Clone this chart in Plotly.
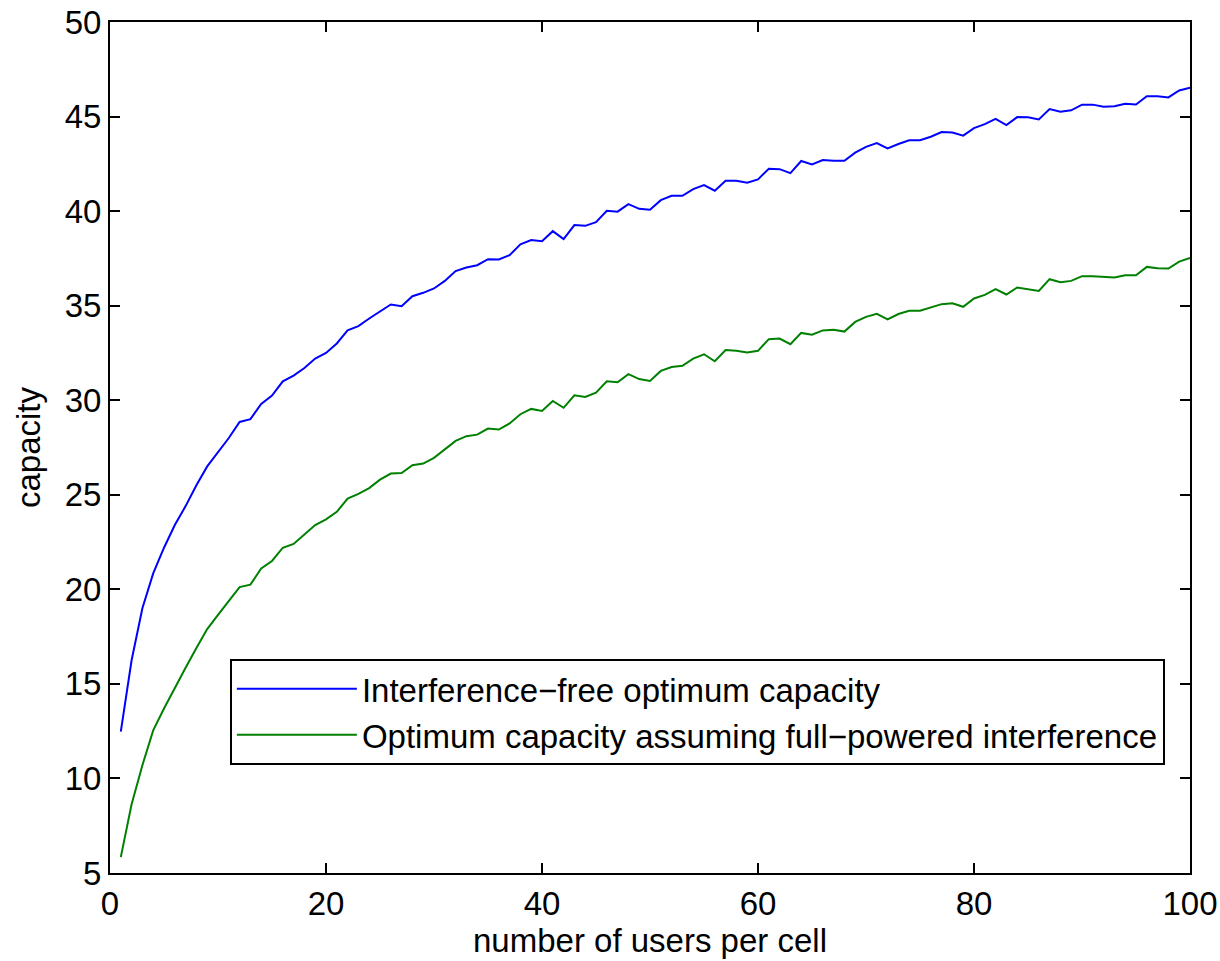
import plotly.graph_objects as go

users = list(range(1, 101))

interference_free = [
    12.48, 16.25, 19.0, 20.84, 22.2, 23.4, 24.4, 25.5, 26.5, 27.25,
    28.0, 28.85, 29.0, 29.8, 30.25, 31.0, 31.3, 31.7, 32.2, 32.5,
    33.0, 33.7, 33.92, 34.32, 34.67, 35.06, 34.97, 35.5, 35.68, 35.91,
    36.31, 36.83, 37.02, 37.14, 37.46, 37.44, 37.67, 38.24, 38.47, 38.41,
    38.94, 38.52, 39.26, 39.22, 39.42, 40.02, 39.97, 40.37, 40.12, 40.07,
    40.58, 40.81, 40.81, 41.16, 41.38, 41.08, 41.6, 41.6, 41.5, 41.68,
    42.24, 42.22, 42.01, 42.65, 42.47, 42.7, 42.66, 42.66, 43.09, 43.4,
    43.6, 43.32, 43.55, 43.75, 43.75, 43.93, 44.18, 44.16, 43.99, 44.39,
    44.6, 44.88, 44.55, 44.97, 44.96, 44.85, 45.4, 45.26, 45.33, 45.63,
    45.63, 45.52, 45.54, 45.68, 45.64, 46.07, 46.07, 46.01, 46.38, 46.52,
]

full_interference = [
    5.84, 8.63, 10.7, 12.54, 13.7, 14.8, 15.85, 16.9, 17.9, 18.65,
    19.4, 20.12, 20.25, 21.1, 21.5, 22.2, 22.4, 22.9, 23.4, 23.7,
    24.1, 24.8, 25.05, 25.35, 25.8, 26.12, 26.15, 26.56, 26.65, 26.95,
    27.39, 27.85, 28.1, 28.18, 28.5, 28.45, 28.77, 29.26, 29.54, 29.43,
    29.96, 29.6, 30.26, 30.17, 30.4, 31.0, 30.95, 31.38, 31.12, 31.02,
    31.55, 31.76, 31.82, 32.2, 32.43, 32.06, 32.65, 32.61, 32.52, 32.61,
    33.23, 33.26, 32.96, 33.56, 33.46, 33.69, 33.72, 33.63, 34.14, 34.41,
    34.57, 34.27, 34.56, 34.73, 34.73, 34.89, 35.08, 35.13, 34.94, 35.38,
    35.57, 35.87, 35.59, 35.96, 35.89, 35.78, 36.4, 36.24, 36.31, 36.56,
    36.56, 36.53, 36.49, 36.61, 36.61, 37.05, 36.98, 36.96, 37.33, 37.53,
]

series_names = [
    "Interference\u2212free optimum capacity",
    "Optimum capacity assuming full\u2212powered interference",
]
x_ticks = [0, 20, 40, 60, 80, 100]
y_ticks = [5, 10, 15, 20, 25, 30, 35, 40, 45, 50]

FONT = "Liberation Sans, Arial, Helvetica, sans-serif"
FS = 33

fig = go.Figure()
fig.add_trace(go.Scatter(x=users, y=interference_free, mode="lines",
                         name=series_names[0],
                         line=dict(color="#0000FF", width=2)))
fig.add_trace(go.Scatter(x=users, y=full_interference, mode="lines",
                         name=series_names[1],
                         line=dict(color="#008000", width=2)))

axis_common = dict(
    showline=True, linecolor="black", linewidth=2, mirror="ticks",
    ticks="inside", ticklen=10, tickwidth=1.5, tickcolor="black",
    showgrid=False, zeroline=False, automargin=False,
    tickfont=dict(family=FONT, size=FS, color="black"),
)

fig.update_xaxes(range=[0, 100], tickvals=x_ticks,
                 title=dict(text="number of users per cell",
                            font=dict(family=FONT, size=FS, color="black"),
                            standoff=8),
                 **axis_common)
fig.update_yaxes(range=[5, 50], tickvals=y_ticks,
                 title=dict(text="capacity",
                            font=dict(family=FONT, size=FS, color="black"),
                            standoff=14),
                 **axis_common)

fig.update_layout(
    width=1220, height=961,
    margin=dict(l=110, r=30, t=22, b=88),
    paper_bgcolor="white", plot_bgcolor="white",
    font=dict(family=FONT, size=FS, color="black"),
    showlegend=True,
    legend=dict(
        x=0.111, y=0.127, xanchor="left", yanchor="bottom",
        bgcolor="white", bordercolor="black", borderwidth=2,
        font=dict(family=FONT, size=FS, color="black"),
        itemwidth=120, tracegroupgap=0,
    ),
)

fig.write_html("out.html")
